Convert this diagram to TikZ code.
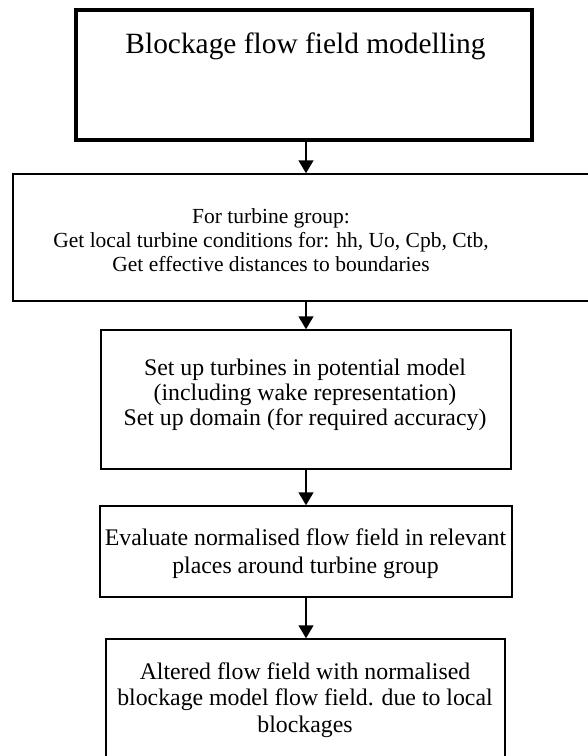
\documentclass[tikz,border=0pt]{standalone}
\usepackage{fontspec}
\setmainfont{Liberation Serif}
\usetikzlibrary{arrows.meta}
\begin{document}
\begin{tikzpicture}[x=1pt,y=-1pt,
  box/.style={draw=black, line width=1.5pt, rectangle, inner sep=0pt},
  thickbox/.style={draw=black, line width=3.5pt, rectangle, inner sep=0pt},
  txt/.style={inner sep=0pt, align=center, font=\fontsize{23.8}{26.5}\selectfont},
  arr/.style={line width=1.5pt, -{Triangle[width=15pt,length=13pt]}}]
\useasboundingbox (0,0) rectangle (588,756);
\node[thickbox, minimum width=456pt, minimum height=130pt] (b1) at (304,75) {};
\node[box, minimum width=586pt, minimum height=127pt] (b2) at (306,237.5) {};
\node[box, minimum width=410pt, minimum height=139pt] (b3) at (306,399.5) {};
\node[box, minimum width=412pt, minimum height=91pt] (b4) at (306,551.5) {};
\node[box, minimum width=399pt, minimum height=160pt] (b5) at (305.5,719) {};
\node[txt, font=\fontsize{29.4}{32}\selectfont, anchor=base] (t1) at (305.5,53) {Blockage flow field modelling};
\node[txt, font=\fontsize{21.5}{24}\selectfont] (t2) at (271,240) {For turbine group:\\Get local turbine conditions for: hh, Uo, Cpb, Ctb,\\Get effective distances to boundaries};
\node[txt, font=\fontsize{23.8}{25}\selectfont] (t3) at (305,395) {Set up turbines in potential model\\(including wake representation)\\Set up domain (for required accuracy)};
\node[txt, font=\fontsize{23.8}{28}\selectfont] (t4) at (305.5,554) {Evaluate normalised flow field in relevant\\places around turbine group};
\node[txt] (t5) at (305,700) {Altered flow field with normalised\\blockage model flow field. due to local\\blockages};
\draw[arr] (b2.north |- b1.south) -- (b2.north);
\draw[arr] (b2.south) -- (b3.north);
\draw[arr] (b3.south) -- (b4.north);
\draw[arr] (b4.south) -- (b4.south |- b5.north);
\end{tikzpicture}
\end{document}
